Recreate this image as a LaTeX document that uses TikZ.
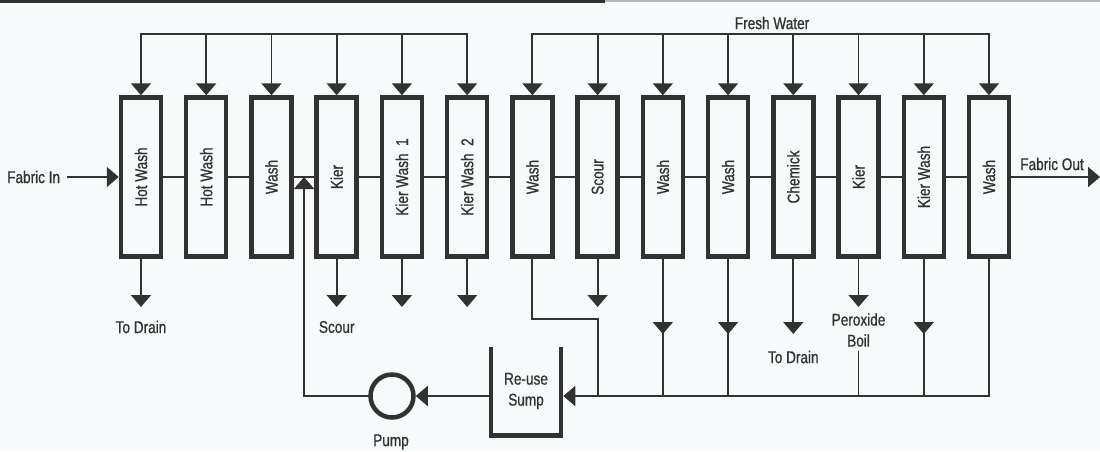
\documentclass[tikz,border=0pt]{standalone}
\usepackage{fontspec}
\setmainfont{Liberation Sans}[FakeStretch=0.8, FakeBold=0.8]
\usepackage{tikz}
\usetikzlibrary{arrows.meta, calc, positioning}

\definecolor{ink}{RGB}{50,50,50}
\definecolor{paper}{RGB}{246,250,250}

\tikzset{
  tank/.style={draw=ink, line width=4.5pt, minimum width=40pt, minimum height=159pt, inner sep=0pt},
  pipe/.style={draw=ink, line width=1.8pt, line cap=rect},
  flow/.style={pipe, -{Triangle[width=20pt,length=12pt]}},
  lbl/.style={text=ink, font=\fontsize{17}{21}\selectfont, inner sep=0pt, align=center},
}

\begin{document}
\begin{tikzpicture}[x=1pt, y=-1pt]
    % paper and scan edge
    \fill[paper] (0,0) rectangle (1100,451);
    \useasboundingbox (0,0) rectangle (1100,451);
    \fill[ink] (0,0) rectangle (605,3);
    \fill[ink!35] (605,0) rectangle (1100,1.5);

    % Tanks
    \foreach \i/\txt in {1/Hot Wash, 2/Hot Wash, 3/Wash, 4/Kier, 5/Kier Wash\ \ 1,
        6/Kier Wash\ \ 2, 7/Wash, 8/Scour, 9/Wash, 10/Wash, 11/Chemick, 12/Kier,
        13/Kier Wash, 14/Wash} {
        \node[tank] (t\i) at ({141+65.23*(\i-1)}, 177) {};
        \node[lbl, rotate=90] (n\i) at (t\i.center) {\txt};
    }

    % Fabric path
    \node[lbl, anchor=west] (fin) at (7,177) {Fabric In};
    \draw[flow] ([xshift=8pt]fin.east) -- (t1.west);
    \foreach \i [evaluate=\i as \j using int(\i+1)] in {1,...,13}
        \draw[pipe] (t\i.east) -- (t\j.west);
    \node[lbl] (fout) at (1052,164) {Fabric Out};
    \coordinate (outend) at (1100,177);
    \draw[flow] (t14.east) -- (outend);

    % Fresh water
    \coordinate (fw) at (0,34);
    \node[lbl] (fwtxt) at (772,23) {Fresh Water};
    \draw[pipe] (t1.north |- fw) -- (t6.north |- fw);
    \draw[pipe] (t7.north |- fw) -- (t14.north |- fw);
    \foreach \i in {1,...,14}
        \draw[flow] (t\i.north |- fw) -- (t\i.north);

    % Drains
    \foreach \i in {1,4,5,6,8,12}
        \draw[flow] (t\i.south) -- (t\i.south |- 0,307);
    \foreach \i in {9,10,11,13}
        \draw[flow] (t\i.south) -- (t\i.south |- 0,334);
    \node[lbl] (drn1) at (t1.south |- 0,327) {To Drain};
    \node[lbl] (scr) at (t4.south |- 0,327) {Scour};
    \node[lbl] (drn2) at (t11.south |- 0,357) {To Drain};
    \node[lbl] (pbl) at (t12.south |- 0,330) {Peroxide\\Boil};

    % Re-use sump and pump
    \node[lbl, minimum width=70pt, minimum height=89pt, outer sep=0pt] (sump) at (526,391) {Re-use\\Sump};
    \draw[draw=ink, line width=4.5pt] (sump.north west) -- (sump.south west)
        -- (sump.south east) -- (sump.north east);
    \node[draw=ink, line width=4.5pt, circle, minimum size=43pt] (pump) at (392,396) {};
    \node[lbl] (pmp) at (391,442) {Pump};
    \coordinate (sumpR) at ([xshift=2.25pt]sump.east |- pump.center);
    \coordinate (ret) at ($(t3.east)!0.5!(t4.west)$);

    % Return line
    \draw[flow] (t14.south) |- (sumpR);
    \foreach \i in {9,10,13}
        \draw[pipe] (t\i.south |- 0,334) -- (t\i.south |- sumpR);
    \draw[pipe] (pbl.south |- 0,352) -- (t12.south |- sumpR);
    \draw[pipe] (t7.south) -- (t7.south |- 0,319) -| (t8.south |- sumpR);
    \draw[flow] (sump.west |- pump.center) -- (pump.east);
    \draw[flow] (pump.west) -| (ret);
\end{tikzpicture}
\end{document}
